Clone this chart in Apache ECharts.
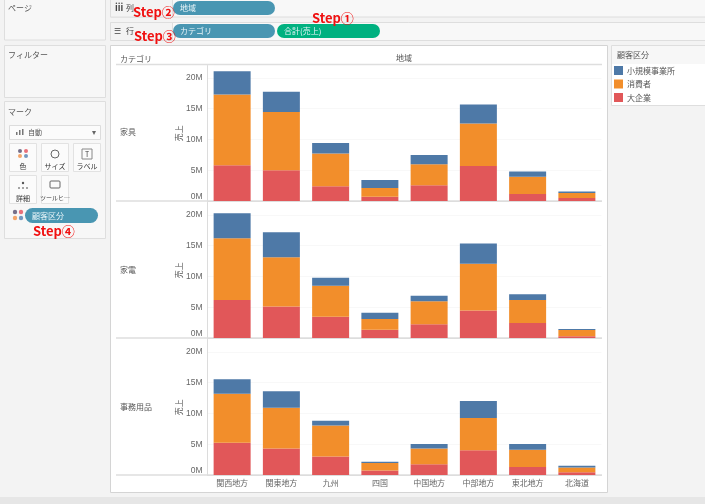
<!DOCTYPE html>
<html>
<head>
<meta charset="utf-8">
<style>html,body{margin:0;padding:0;background:#f3f3f3}#main{width:705px;height:504px}</style>
<script src="https://cdn.jsdelivr.net/npm/echarts@6/dist/echarts.min.js"></script>
</head>
<body>
<div id="main"></div>
<script>
// values in millions
var regions = ['関西地方', '関東地方', '九州', '四国', '中国地方', '中部地方', '東北地方', '北海道'];
var categories = ['家具', '家電', '事務用品'];
var segmentNames = ['大企業', '消費者', '小規模事業所'];
var tickValues = [0, 5, 10, 15, 20];

var furnitureLarge = [5.8, 5.0, 2.4, 0.7, 2.55, 5.7, 1.15, 0.5];
var furnitureConsumer = [11.5, 9.45, 5.3, 1.4, 3.4, 6.9, 2.8, 0.8];
var furnitureSmall = [3.75, 3.3, 1.7, 1.3, 1.5, 3.05, 0.85, 0.25];

var applianceLarge = [6.15, 5.1, 3.45, 1.35, 2.25, 4.45, 2.45, 0.3];
var applianceConsumer = [10.05, 8.0, 5.05, 1.75, 3.7, 7.6, 3.7, 1.0];
var applianceSmall = [4.05, 4.05, 1.3, 1.0, 0.9, 3.3, 0.95, 0.15];

var officeLarge = [5.25, 4.3, 3.0, 0.75, 1.75, 4.0, 1.3, 0.45];
var officeConsumer = [7.95, 6.6, 5.05, 1.2, 2.55, 5.25, 2.8, 0.75];
var officeSmall = [2.35, 2.7, 0.75, 0.2, 0.75, 2.75, 0.95, 0.3];

var panelData = [
    [furnitureLarge, furnitureConsumer, furnitureSmall],
    [applianceLarge, applianceConsumer, applianceSmall],
    [officeLarge, officeConsumer, officeSmall]
];
var segmentColors = ['#e15759', '#f28e2b', '#4e79a7'];
var font = '"Noto Sans CJK JP", sans-serif';
var panelTops = [65.5, 202.5, 339.5];
var panelHeight = 135.5;

var myChart = echarts.init(document.getElementById('main'));

var grids = [], xAxes = [], yAxes = [], series = [];
panelData.forEach(function (rows, p) {
    grids.push({left: 207.5, width: 394, top: panelTops[p], height: panelHeight});
    xAxes.push({
        type: 'category',
        gridIndex: p,
        data: regions,
        axisTick: {show: false},
        axisLine: {lineStyle: {color: '#dcdcdc'}},
        axisLabel: {show: p === 2, color: '#666', fontSize: 8, fontFamily: font, margin: 4, interval: 0}
    });
    yAxes.push({
        type: 'value',
        gridIndex: p,
        min: 0,
        max: 22,
        name: '売上',
        nameLocation: 'middle',
        nameRotate: 90,
        nameGap: 25,
        nameMoveOverlap: false,
        nameTextStyle: {color: '#555', fontSize: 8, fontFamily: font},
        axisLine: {show: true, lineStyle: {color: '#dcdcdc'}},
        axisTick: {show: false, customValues: tickValues},
        splitLine: {lineStyle: {color: '#f8f8f8'}},
        axisLabel: {
            customValues: tickValues,
            color: '#666',
            fontSize: 8.5,
            fontFamily: 'Liberation Sans',
            margin: 5,
            verticalAlignMinLabel: 'bottom',
            formatter: function (v) { return v + 'M'; }
        }
    });
    rows.forEach(function (values, s) {
        series.push({
            name: segmentNames[s],
            type: 'bar',
            stack: 'panel' + p,
            xAxisIndex: p,
            yAxisIndex: p,
            barWidth: 37,
            itemStyle: {color: segmentColors[s]},
            data: values
        });
    });
});

// Tableau window chrome around the chart
function box(x, y, w, h, fill, stroke, r) {
    return {type: 'rect', silent: true, z: -5, shape: {x: x, y: y, width: w, height: h, r: r || 0},
        style: {fill: fill, stroke: stroke || null, lineWidth: 1}};
}
function label(x, y, text, size, color, align, weight) {
    return {type: 'text', silent: true, z: 5, x: x, y: y,
        style: {text: text, fontSize: size, fill: color, align: align || 'left', verticalAlign: 'middle',
            fontFamily: font, fontWeight: weight || 'normal'}};
}
function hline(x1, x2, y, color) {
    return {type: 'line', silent: true, z: 1, shape: {x1: x1, y1: y, x2: x2, y2: y}, style: {stroke: color, lineWidth: 1.5}};
}
function pill(x, y, w, h, fill, text) {
    return [box(x, y, w, h, fill, null, h / 2), label(x + 7, y + h / 2, text, 8, '#e8f4f8')];
}
function dot(x, y, r, color) {
    return {type: 'circle', silent: true, z: 5, shape: {cx: x, cy: y, r: r}, style: {fill: color}};
}
function tinyBar(x, y, h) {
    return {type: 'rect', silent: true, z: 5, shape: {x: x, y: y, width: 1.5, height: h}, style: {fill: '#777'}};
}
function step(x, y, text) {
    return label(x, y, text, 13, '#f01010', 'left', 'bold');
}

var chrome = [
    box(4.5, -1, 101, 41, '#f7f7f7', '#dedede'),
    box(4.5, 45.5, 101, 52, '#f7f7f7', '#dedede'),
    box(4.5, 101.5, 101, 137, '#f7f7f7', '#dedede'),
    box(110.5, -1, 600, 18, '#f8f8f8', '#dedede'),
    box(110.5, 22.5, 600, 18, '#f8f8f8', '#dedede'),
    box(110.5, -1, 62, 18, '#f3f3f3', '#dedede'),
    box(110.5, 22.5, 62, 18, '#f3f3f3', '#dedede'),
    box(110.5, 45.5, 497, 447, '#ffffff', '#d4d4d4'),
    box(611.5, 45.5, 100, 60, '#f7f7f7', '#dedede'),
    box(612, 64, 100, 41, '#ffffff', null),
    box(0, 497, 705, 7, '#e6e6e6', null),

    label(8, 8, 'ページ', 8, '#555'),
    label(8, 55, 'フィルター', 8, '#555'),
    label(8, 112, 'マーク', 8, '#555'),
    label(126, 8, '列', 8, '#444'),
    label(126, 31, '行', 8, '#444'),
    label(115, 8, 'iii', 9, '#444', 'left', 'bold'),
    label(114, 31, '☰', 8, '#444'),
    label(120, 59, 'カテゴリ', 8, '#555'),
    label(404, 58, '地域', 8, '#555', 'center'),
    label(617, 55, '顧客区分', 8, '#555'),

    hline(116, 602, 64.5, '#dedede'),
    hline(116, 602, 201, '#dedede'),
    hline(116, 602, 338, '#dedede'),
    hline(116, 602, 475, '#dedede'),
    label(120, 132, categories[0], 8, '#555'),
    label(120, 270, categories[1], 8, '#555'),
    label(120, 407, categories[2], 8, '#555'),

    box(9.5, 125.5, 91, 14, '#fbfbfb', '#dcdcdc'),
    tinyBar(16, 132, 3), tinyBar(19, 130, 5), tinyBar(22, 129, 6),
    label(28, 132, '自動', 7, '#555'),
    label(94, 132, '▾', 8, '#666', 'center'),
    box(9.5, 143.5, 27, 28, '#fbfbfb', '#e2e2e2'),
    box(41.5, 143.5, 27, 28, '#fbfbfb', '#e2e2e2'),
    box(73.5, 143.5, 27, 28, '#fbfbfb', '#e2e2e2'),
    box(9.5, 175.5, 27, 28, '#fbfbfb', '#e2e2e2'),
    box(41.5, 175.5, 27, 28, '#fbfbfb', '#e2e2e2'),
    label(23, 166, '色', 7, '#333', 'center'),
    label(55, 166, 'サイズ', 7, '#333', 'center'),
    label(87, 166, 'ラベル', 7, '#333', 'center'),
    label(23, 198, '詳細', 7, '#333', 'center'),
    label(55, 198, 'ツールヒ…', 6, '#333', 'center'),
    label(87, 154, 'T', 7, '#444', 'center'),
    {type: 'rect', silent: true, z: 5, shape: {x: 82, y: 149, width: 10, height: 10}, style: {fill: 'none', stroke: '#888'}},
    dot(20, 151, 2, '#76708a'), dot(26, 151, 2, '#e8707a'), dot(20, 156, 2, '#f4a56a'), dot(26, 156, 2, '#7398c0'),
    {type: 'circle', silent: true, z: 5, shape: {cx: 55, cy: 154, r: 4}, style: {fill: 'none', stroke: '#666'}},
    {type: 'rect', silent: true, z: 5, shape: {x: 50, y: 181, width: 10, height: 7, r: 1}, style: {fill: 'none', stroke: '#666'}},
    dot(23, 183, 1.2, '#555'), dot(19, 188, 1, '#888'), dot(23, 188, 1, '#888'), dot(27, 188, 1, '#888'),
    dot(15, 212, 2.2, '#76708a'), dot(21, 212, 2.2, '#e8707a'), dot(15, 218, 2.2, '#f4a56a'), dot(21, 218, 2.2, '#7398c0'),

    step(133, 12, 'Step②'),
    step(134, 36, 'Step③'),
    step(312, 18, 'Step①'),
    step(33, 231, 'Step④')
];
chrome = chrome.concat(
    pill(173, 1, 102, 14, '#4996b2', '地域'),
    pill(173, 24, 102, 14, '#4996b2', 'カテゴリ'),
    pill(277, 24, 103, 14, '#00b180', '合計(売上)'),
    pill(25, 208, 73, 15, '#4996b2', '顧客区分')
);

myChart.setOption({
    backgroundColor: '#f3f3f3',
    animation: false,
    legend: {
        left: 609,
        top: 61,
        orient: 'vertical',
        itemWidth: 9,
        itemHeight: 9,
        itemGap: 4.5,
        icon: 'rect',
        data: ['小規模事業所', '消費者', '大企業'],
        textStyle: {color: '#555', fontSize: 8, fontFamily: font, padding: [0, 0, 0, -1]}
    },
    grid: grids,
    xAxis: xAxes,
    yAxis: yAxes,
    series: series,
    graphic: chrome
});
</script>
</body>
</html>
